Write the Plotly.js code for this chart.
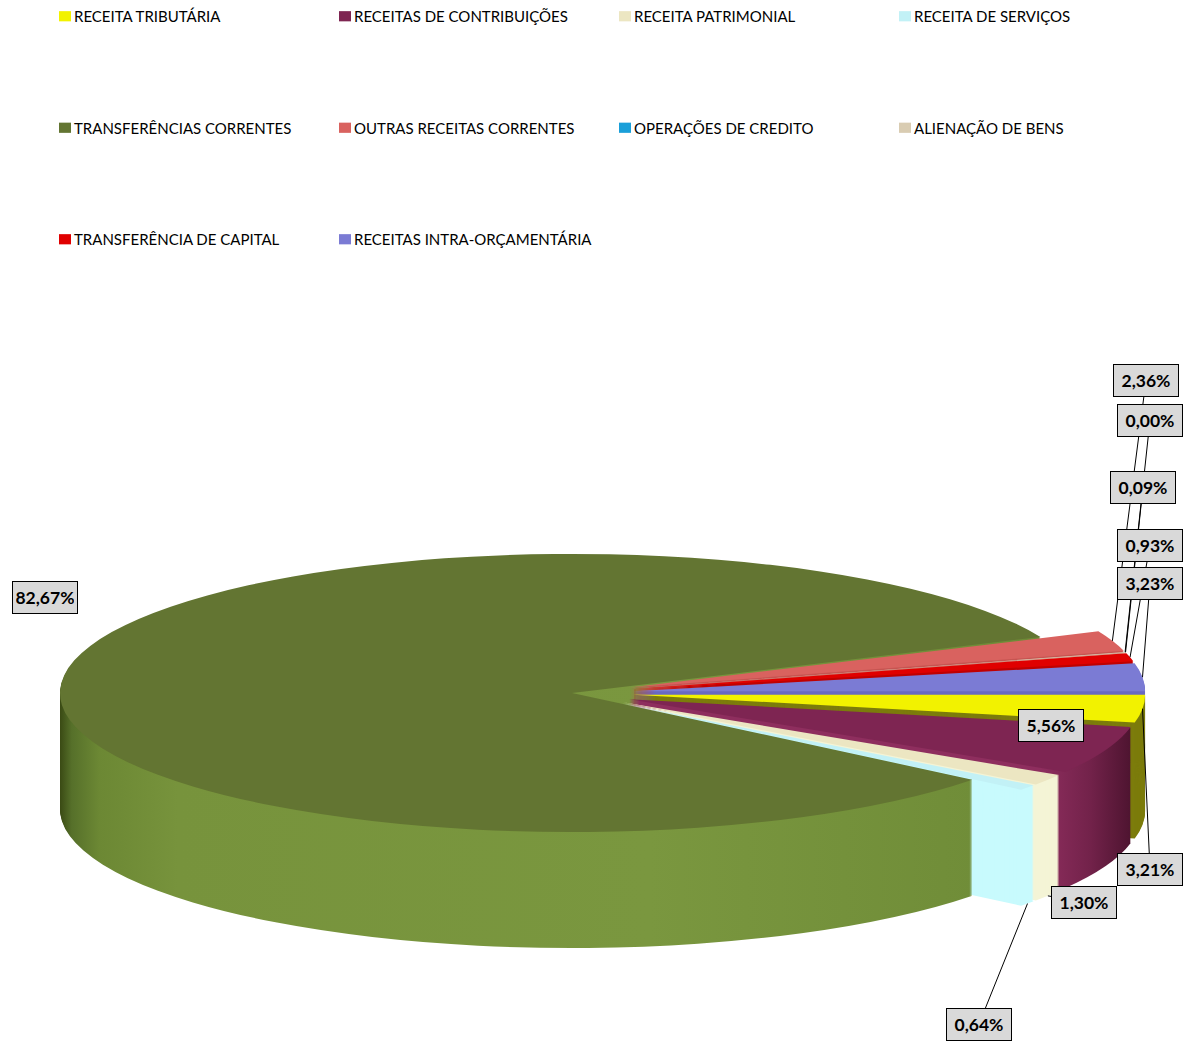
<!DOCTYPE html>
<html><head><meta charset="utf-8">
<script src="https://cdn.plot.ly/plotly-3.0.1.min.js"></script>
<style>html,body{margin:0;padding:0;background:#fff}#chart{width:1191px;height:1043px}</style>
</head><body><div id="chart"></div>
<script>
// ---- data ----
const categories = ["RECEITA TRIBUTÁRIA","RECEITAS DE CONTRIBUIÇÕES","RECEITA PATRIMONIAL","RECEITA DE SERVIÇOS","TRANSFERÊNCIAS CORRENTES","OUTRAS RECEITAS CORRENTES","OPERAÇÕES DE CREDITO","ALIENAÇÃO DE BENS","TRANSFERÊNCIA DE CAPITAL","RECEITAS INTRA-ORÇAMENTÁRIA"];
const shares = [3.21, 5.56, 1.30, 0.64, 82.67, 2.36, 0.00, 0.09, 0.93, 3.23];

// ---- styles ----
const topColors  = ['#f2f200','#7e2552','#ece6c2','#c2f1f6','#637532','#d9625f','#1a9fd9','#d9ccb2','#e00000','#7b7bd4'];
const sideColors = ['#7c7c0c','#8a2b5b','#f4f4d6','#c8fafd','#76923c','#c65552','#1a8fc0','#e2d6be','#c00000','#6a6ac2'];
const pulls = categories.map((c, i) => i === 4 ? 0 : 0.12);

const W = 1191, H = 1043;
const CX = 572, CY = 693, RX = 512, RY = 139;
const N_LAYERS = 116, STEP = 1;

function pieTrace(colors, legend) {
  return {
    type: 'pie', labels: categories, values: shares, sort: false,
    direction: 'clockwise', rotation: 90, pull: pulls,
    marker: {colors: colors, line: {width: 0}},
    textinfo: 'none', hoverinfo: 'skip', showlegend: legend,
    domain: {x: [0.3, 0.7], y: [0.15, 0.6]}
  };
}
const traces = [];
for (let k = N_LAYERS; k >= 1; k--) traces.push(pieTrace(sideColors, false));
traces.push(pieTrace(topColors, true));

// label boxes (layout positions, px) and where the leader line attaches
const boxPos = {0:[1150,869,'top'],1:[1051,725,null],2:[1084,902,'bottom'],3:[979,1024,'bottom'],4:[45,597,null],
  5:[1146,380,'top'],6:[1150,420,'top'],7:[1143,487,'top'],8:[1150,545,'top'],9:[1150,583,'top']};
const order = [4,1,5,6,7,8,9,0,2,3];
const total = shares.reduce((a, b) => a + b, 0);
const cum = []; shares.reduce((a, v, i) => (cum[i] = a, a + v), 0);

const annotations = order.map(i => {
  const txt = shares[i].toFixed(2).replace('.', ',') + '%';
  const [bx, by, attach] = boxPos[i];
  const base = {xref:'paper', yref:'paper', text: txt, bgcolor:'#d9d9d9', bordercolor:'#000', borderwidth:1,
    borderpad:3, width:58, height:25, font:{family:'Lato', size:17.5, color:'#000', weight:'bold'}};
  if (!attach) return Object.assign(base, {x: bx / W, y: 1 - by / H, xanchor:'center', yanchor:'middle', showarrow:false});
  const th = (90 + 360 * (cum[i] + shares[i] / 2) / total) * Math.PI / 180;
  const s = Math.sin(th), c = Math.cos(th);
  const tx = CX + pulls[i] * RX * s + RX * s;
  let ty = CY - pulls[i] * RY * c - RY * c;
  if (attach === 'bottom') ty += N_LAYERS * STEP;
  return Object.assign(base, {x: tx / W, y: 1 - ty / H, showarrow:true, arrowhead:0, arrowwidth:1,
    arrowcolor:'#000', axref:'pixel', ayref:'pixel', ax: bx - tx, ay: by - ty});
});

const layout = {
  width: W, height: H, margin: {l:0, r:0, t:0, b:0},
  paper_bgcolor:'#fff', plot_bgcolor:'#fff', hovermode:false,
  font: {family:'Lato', color:'#000'},
  legend: {orientation:'h', x: 34 / W, xanchor:'left', y: 1, yanchor:'top',
    entrywidth: 235, entrywidthmode:'pixels', itemwidth:30,
    font:{family:'Lato', size:15, color:'#000'}, bgcolor:'rgba(0,0,0,0)', traceorder:'normal'},
  annotations: annotations
};

const gd = document.getElementById('chart');
Plotly.newPlot(gd, traces, layout, {staticPlot:true, displayModeBar:false}).then(() => {
  // gradients for the shaded side walls
  const NS = 'http://www.w3.org/2000/svg';
  const svg = gd.querySelector('svg.main-svg');
  const defs = document.createElementNS(NS, 'defs');
  function grad(id, stops) {
    const lg = document.createElementNS(NS, 'linearGradient');
    lg.setAttribute('id', id); lg.setAttribute('x1', '0'); lg.setAttribute('x2', '1');
    lg.setAttribute('y1', '0'); lg.setAttribute('y2', '0');
    stops.forEach(([o, col]) => {
      const st = document.createElementNS(NS, 'stop');
      st.setAttribute('offset', o); st.setAttribute('stop-color', col); lg.appendChild(st);
    });
    defs.appendChild(lg);
  }
  grad('sideGreen', [[0,'#3a4a14'],[0.012,'#56702a'],[0.04,'#6c8834'],[0.12,'#77933c'],[0.6,'#7a973f'],[1,'#6e8b37']]);
  grad('sideMaroon', [[0,'#8e2e5e'],[0.82,'#8e2e5e'],[0.92,'#72224a'],[1,'#4e1430']]);
  svg.insertBefore(defs, svg.firstChild);

  // project each pie copy onto a flattened ellipse, stacked to give depth
  const groups = gd.querySelectorAll('.pielayer .trace');
  groups.forEach((g, i) => {
    const cd0 = gd.calcdata[i][0];
    const sx = RX / cd0.r, sy = RY / cd0.r;
    const off = i < N_LAYERS ? (N_LAYERS - i) * STEP : 0;
    g.setAttribute('transform', `matrix(${sx},0,0,${sy},${CX - sx * cd0.cx},${CY + off - sy * cd0.cy})`);
    if (i < N_LAYERS) {
      g.querySelectorAll('path.surface').forEach(p => {
        const f = (p.style.fill || '').replace(/\s/g, '');
        if (f === 'rgb(118,146,60)') p.style.fill = 'url(#sideGreen)';
        if (f === 'rgb(138,43,91)') p.style.fill = 'url(#sideMaroon)';
      });
    }
  });
  // spread legend rows, symbol close to the text
  const items = Array.from(gd.querySelectorAll('g.legend g.traces'));
  const parsed = items.map(el => {
    const m = /translate\(\s*([-\d.]+)[ ,]+([-\d.]+)\s*\)/.exec(el.getAttribute('transform') || '');
    return m ? [+m[1], +m[2]] : [0, 0];
  });
  const ys = Array.from(new Set(parsed.map(p => p[1]))).sort((a, b) => a - b);
  items.forEach((el, k) => {
    const row = ys.indexOf(parsed[k][1]);
    el.setAttribute('transform', `translate(${parsed[k][0]},${ys[0] + row * 111.5})`);
    const lay = el.querySelector('g.layers');
    if (lay) lay.setAttribute('transform', 'translate(11,0) scale(1,0.85)');
  });
  const sb = gd.querySelector('g.legend .scrollbox');
  if (sb) sb.removeAttribute('clip-path');
  const lg = gd.querySelector('g.legend');
  if (lg) lg.removeAttribute('clip-path');
});
</script>
</body></html>
